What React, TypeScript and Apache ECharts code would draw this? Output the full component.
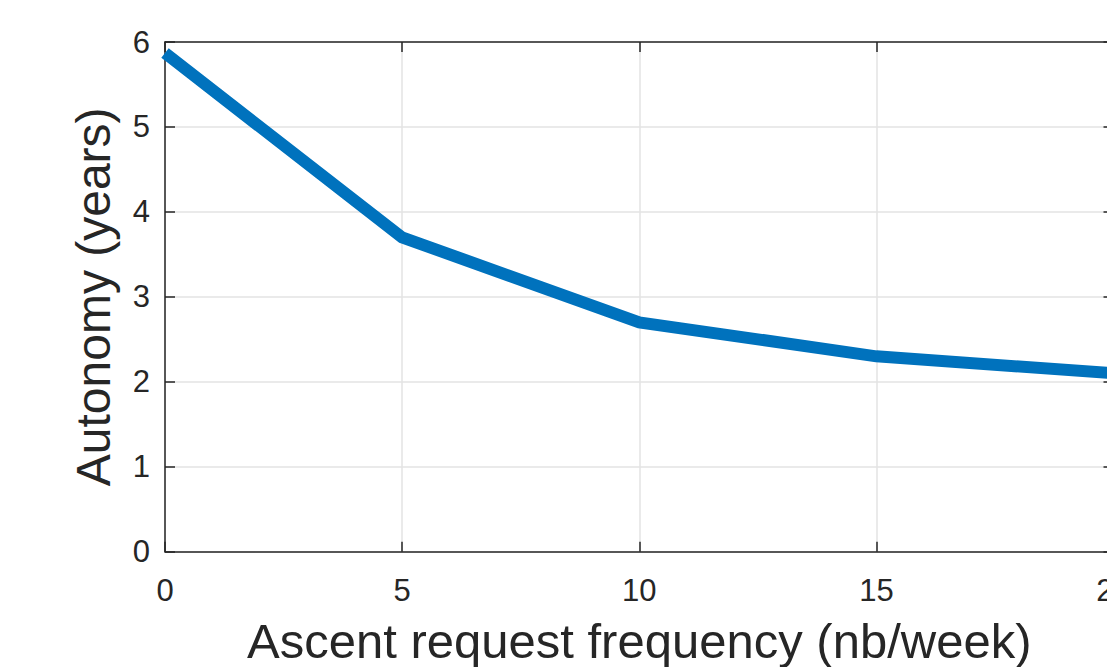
import React, { useEffect, useRef } from "react";
import * as echarts from "echarts";

const frequency = [0, 5, 10, 15, 20];
const autonomy = [5.87, 3.7, 2.7, 2.3, 2.1];
const xTitle = "Ascent request frequency (nb/week)";
const yTitle = "Autonomy (years)";

const axisColor = "#262626";
const gridColor = "#e3e3e3";
const font = "'Liberation Sans', Arial, Helvetica, sans-serif";

export default function App() {
  const ref = useRef<HTMLDivElement>(null);
  useEffect(() => {
    const chart = echarts.init(ref.current!, null, { renderer: "svg" });
    const baseX = {
      type: "value" as const,
      min: 0,
      max: 20,
      interval: 5,
      axisLine: { show: true, onZero: false, lineStyle: { color: axisColor, width: 1.5 } },
      axisTick: { show: true, inside: true, length: 10, lineStyle: { color: axisColor, width: 1.5 } },
    };
    const baseY = {
      type: "value" as const,
      min: 0,
      max: 6,
      interval: 1,
      axisLine: { show: true, onZero: false, lineStyle: { color: axisColor, width: 1.5 } },
      axisTick: { show: true, inside: true, length: 10, lineStyle: { color: axisColor, width: 1.5 } },
    };
    chart.setOption({
      animation: false,
      backgroundColor: "#ffffff",
      grid: {
        left: 165,
        right: -6.5,
        top: 42,
        bottom: 115.3,
        containLabel: false,
        outerBoundsMode: "none",
      },
      xAxis: [
        {
          ...baseX,
          position: "bottom",
          name: xTitle,
          nameLocation: "middle",
          nameGap: 65,
          nameTextStyle: { fontSize: 49, color: axisColor, fontFamily: font },
          axisLabel: { fontSize: 31, color: axisColor, fontFamily: font, margin: 23 },
          splitLine: { show: true, lineStyle: { color: gridColor, width: 1.5 } },
        },
        {
          ...baseX,
          position: "top",
          axisLabel: { show: false },
          splitLine: { show: false },
        },
      ],
      yAxis: [
        {
          ...baseY,
          position: "left",
          name: yTitle,
          nameLocation: "middle",
          nameGap: 48,
          nameTextStyle: { fontSize: 48, color: axisColor, fontFamily: font },
          axisLabel: { fontSize: 31, color: axisColor, fontFamily: font, margin: 15 },
          splitLine: { show: true, lineStyle: { color: gridColor, width: 1.5 } },
        },
        {
          ...baseY,
          position: "right",
          axisLabel: { show: false },
          splitLine: { show: false },
        },
      ],
      series: [
        {
          type: "line",
          xAxisIndex: 0,
          yAxisIndex: 0,
          data: frequency.map((x, i) => [x, autonomy[i]]),
          showSymbol: false,
          symbol: "none",
          clip: true,
          lineStyle: { color: "#0072BD", width: 12, cap: "butt", join: "miter" },
        },
      ],
    });
    return () => chart.dispose();
  }, []);
  return <div ref={ref} style={{ width: 1107, height: 667, position: "absolute", left: 0, top: 0 }} />;
}
